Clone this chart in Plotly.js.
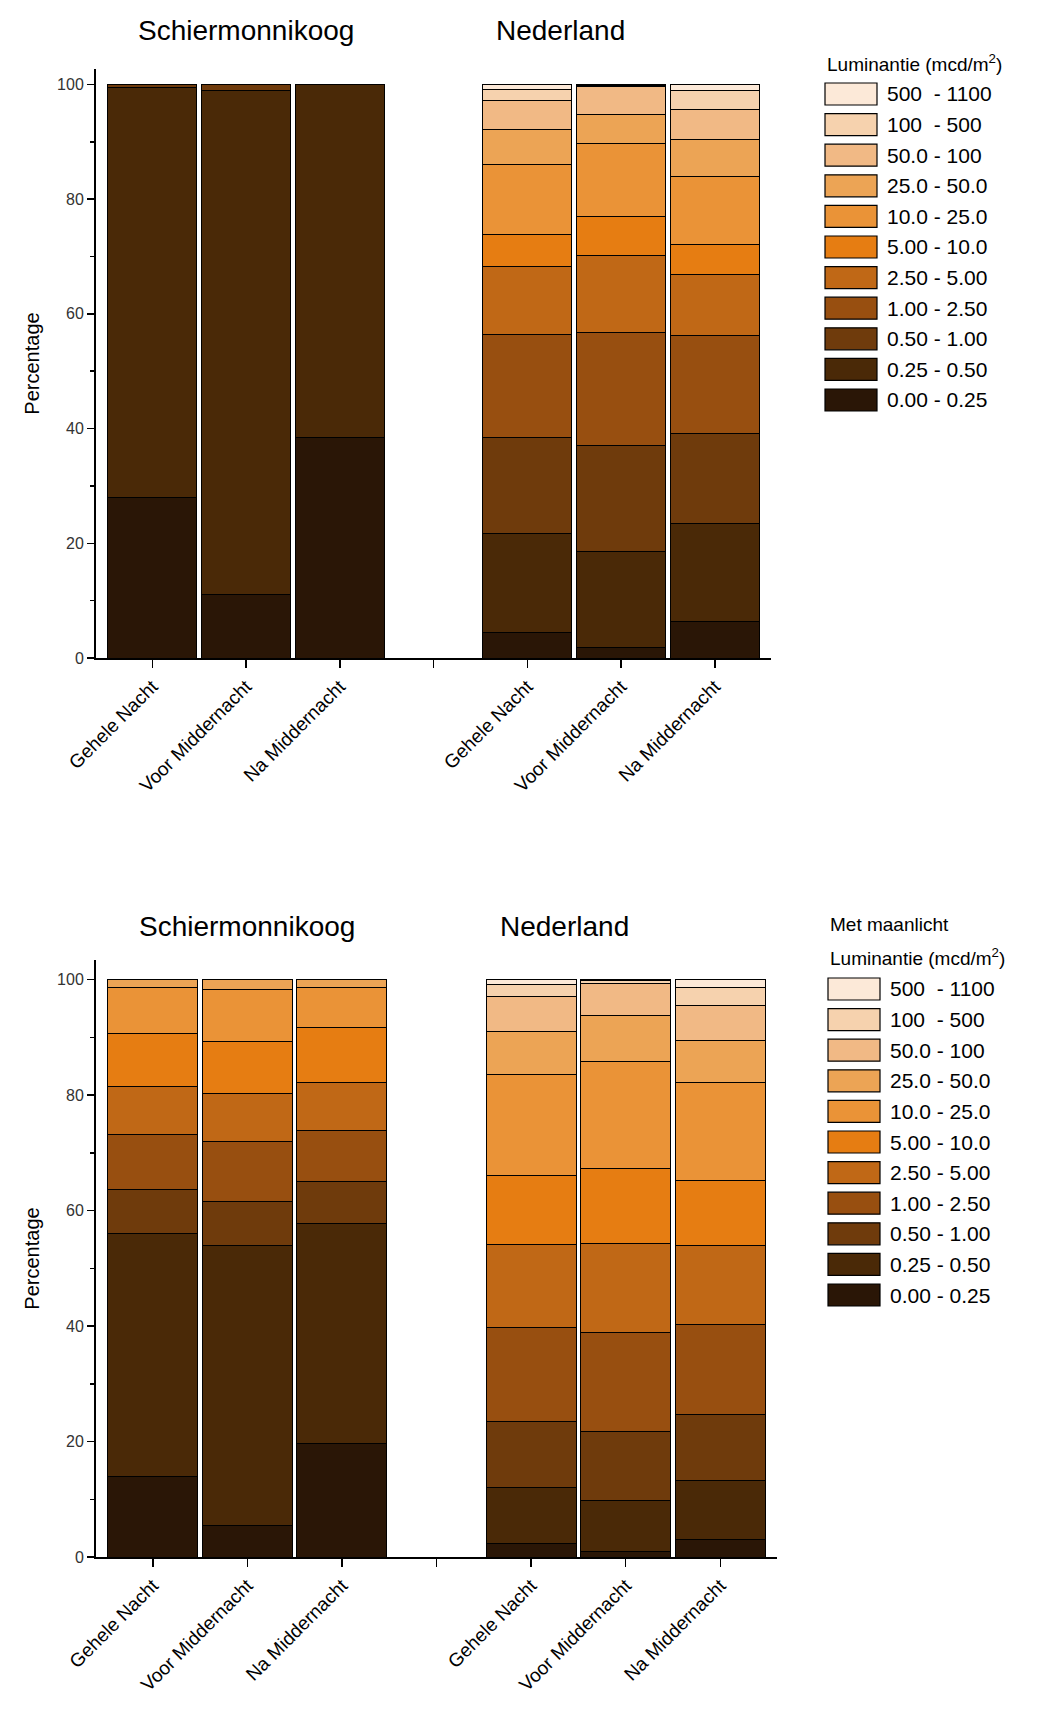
<!DOCTYPE html>
<html>
<head>
<meta charset="utf-8">
<script src="https://cdn.plot.ly/plotly-3.0.1.min.js"></script>
<style>body{margin:0;background:#fff}</style>
</head>
<body>
<div id="plot" style="width:1060px;height:1726px"></div>
<script>
// bins, from low to high luminance
const bins = ["0.00 - 0.25", "0.25 - 0.50", "0.50 - 1.00", "1.00 - 2.50", "2.50 - 5.00",
  "5.00 - 10.0", "10.0 - 25.0", "25.0 - 50.0", "50.0 - 100", "100  - 500", "500  - 1100"];
const colors = ["#2a1606", "#4a2907", "#6f3b0c", "#984f10", "#c06816", "#e67d12",
  "#ea9337", "#eca455", "#f1b985", "#f6d2ae", "#fce9d8"];
const tickLabels = ["Gehele Nacht", "Voor Middernacht", "Na Middernacht", "", "Gehele Nacht", "Voor Middernacht", "Na Middernacht"];
const xPos = [0, 1, 2, 3, 4, 5, 6];

// percentages per bin: Schier (Gehele, Voor, Na), gap, Nederland (Gehele, Voor, Na)
const zonder = [
  [28.0, 11.0, 38.5, null, 4.5, 1.9, 6.3],
  [71.5, 88.0, 61.5, null, 17.2, 16.7, 17.1],
  [0.5, 1.0, 0, null, 16.7, 18.4, 15.8],
  [0, 0, 0, null, 18.0, 19.8, 17.0],
  [0, 0, 0, null, 11.8, 13.4, 10.7],
  [0, 0, 0, null, 5.7, 6.8, 5.2],
  [0, 0, 0, null, 12.2, 12.7, 11.9],
  [0, 0, 0, null, 6.0, 5.1, 6.4],
  [0, 0, 0, null, 5.1, 4.9, 5.2],
  [0, 0, 0, null, 2.0, 0.2, 3.4],
  [0, 0, 0, null, 0.8, 0.1, 1.0]
];
const maanlicht = [
  [14.0, 5.5, 19.7, null, 2.3, 0.9, 3.0],
  [42.1, 48.4, 38.1, null, 9.8, 8.9, 10.2],
  [7.6, 7.7, 7.2, null, 11.3, 11.9, 11.4],
  [9.5, 10.4, 8.9, null, 16.3, 17.2, 15.7],
  [8.3, 8.2, 8.3, null, 14.4, 15.4, 13.6],
  [9.2, 9.0, 9.5, null, 11.9, 13.0, 11.3],
  [8.0, 9.1, 7.0, null, 17.6, 18.5, 17.0],
  [1.3, 1.7, 1.3, null, 7.5, 8.0, 7.2],
  [0, 0, 0, null, 5.9, 5.6, 6.1],
  [0, 0, 0, null, 2.2, 0.4, 3.2],
  [0, 0, 0, null, 0.8, 0.2, 1.3]
];

const traces = [];
[[zonder, 'x', 'y'], [maanlicht, 'x2', 'y2']].forEach(([data, xa, ya]) => {
  data.forEach((vals, i) => {
    traces.push({
      type: 'bar', x: xPos, y: vals, name: bins[i], xaxis: xa, yaxis: ya, showlegend: false,
      marker: {color: colors[i], line: {color: '#000', width: 1}},
      width: 0.95, hoverinfo: 'name+y'
    });
  });
});

const fnt = {family: 'Arial, Liberation Sans, sans-serif', color: '#000'};
function xax(anchor, dom) {
  return {domain: dom, anchor: anchor, range: [-0.6, 6.6], tickvals: xPos, ticktext: tickLabels,
    tickangle: -45, showline: true, linecolor: '#000', linewidth: 2, ticks: 'outside', ticklen: 8,
    tickcolor: '#000', tickwidth: 1.5, tickfont: {...fnt, size: 19}, showgrid: false, zeroline: false};
}
function yax(anchor, dom, top) {
  return {domain: dom, anchor: anchor, range: [0, top], tickvals: [0, 20, 40, 60, 80, 100],
    showline: true, linecolor: '#000', linewidth: 2, ticks: 'outside', ticklen: 7, tickcolor: '#000',
    tickwidth: 1.5, minor: {ticks: 'outside', ticklen: 4, dtick: 10, tickcolor: '#000'},
    tickfont: {...fnt, size: 16, color: '#333'}, showgrid: false, zeroline: false,
    title: {text: 'Percentage', font: {...fnt, size: 20}, standoff: 12}};
}

const H = 1726, W = 1060;
const shapes = [], annotations = [];
// hand-made legend boxes (large swatches like the original)
function legend(x0, top, titles) {
  titles.forEach(([t, yc]) => annotations.push({text: t, x: x0 / W, y: 1 - yc / H,
    xref: 'paper', yref: 'paper', xanchor: 'left', yanchor: 'middle', showarrow: false, font: {...fnt, size: 19}}));
  for (let k = 0; k < bins.length; k++) {
    const i = bins.length - 1 - k;
    const yt = top + k * 30.6;
    shapes.push({type: 'rect', xref: 'paper', yref: 'paper', x0: x0 / W, x1: (x0 + 52) / W,
      y0: 1 - yt / H, y1: 1 - (yt + 22) / H, fillcolor: colors[i], line: {color: '#000', width: 1.2}});
    annotations.push({text: bins[i], x: (x0 + 60) / W, y: 1 - (yt + 11) / H, xref: 'paper', yref: 'paper',
      xanchor: 'left', yanchor: 'middle', showarrow: false, font: {...fnt, size: 21}});
  }
}
legend(825, 83, [['Luminantie (mcd/m<sup>2</sup>)', 63]]);
legend(828, 978, [['Met maanlicht', 924], ['Luminantie (mcd/m<sup>2</sup>)', 957]]);

[['x', 30], ['x2', 926]].forEach(([xr, yy]) => {
  annotations.push({text: 'Schiermonnikoog', x: 1, y: 1 - yy / H, xref: xr, yref: 'paper', yanchor: 'middle', showarrow: false, font: {...fnt, size: 28}});
  annotations.push({text: 'Nederland', x: 4.35, y: 1 - yy / H, xref: xr, yref: 'paper', yanchor: 'middle', showarrow: false, font: {...fnt, size: 28}});
});

const layout = {
  width: W, height: H, margin: {l: 0, r: 0, t: 0, b: 0},
  paper_bgcolor: '#fff', plot_bgcolor: '#fff', barmode: 'stack', showlegend: false,
  xaxis: xax('y', [96 / W, 771 / W]),
  yaxis: yax('x', [1 - 658 / H, 1 - 69 / H], 102.7),
  xaxis2: xax('y2', [96 / W, 777 / W]),
  yaxis2: yax('x2', [1 - 1557 / H, 1 - 960 / H], 103.4),
  shapes: shapes, annotations: annotations
};

Plotly.newPlot('plot', traces, layout, {displayModeBar: false, staticPlot: true});
</script>
</body>
</html>
